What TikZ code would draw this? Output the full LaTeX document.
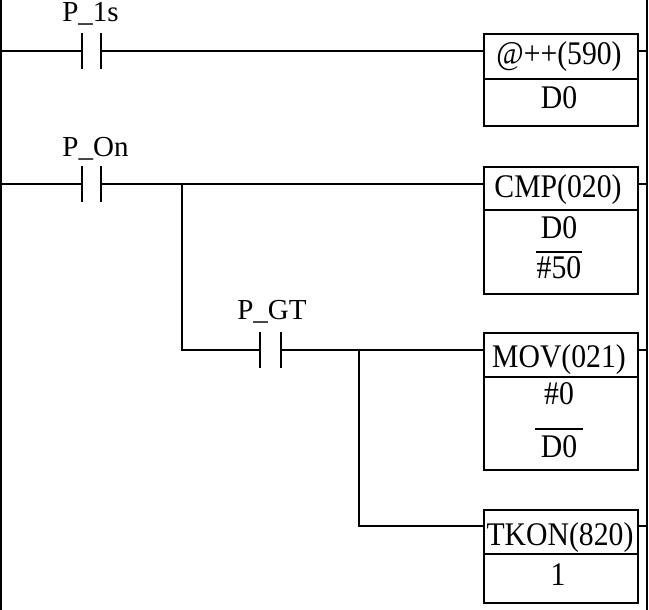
\documentclass[tikz,border=0pt]{standalone}
\usepackage{fontspec}
\setmainfont{Liberation Serif}
\newfontfamily\boxfont[FakeStretch=0.9]{Liberation Serif}
\tikzset{
  wire/.style={line width=1.6pt},
  fbox/.style={draw, line width=1.6pt, minimum width=154pt, inner sep=0pt, anchor=north west},
  txt/.style={font=\boxfont\fontsize{33}{38}\selectfont, inner sep=0pt, anchor=base},
  lab/.style={font=\fontsize{29}{34}\selectfont, inner sep=0pt, anchor=base},
}
\begin{document}
\begin{tikzpicture}[x=1pt, y=-1pt]
\useasboundingbox (0,0) rectangle (649,610);
% rails
\coordinate (lt) at (1,0); \coordinate (lb) at (1,610);
\coordinate (rt) at (647,0); \coordinate (rb) at (647,610);
\draw[wire] (lt) -- (lb);
\draw[wire] (rt) -- (rb);
% rail taps
\coordinate (L1) at (1,51); \coordinate (L2) at (1,184);
\coordinate (R1) at (647,51); \coordinate (R2) at (647,184);
\coordinate (R3) at (647,350); \coordinate (R4) at (647,526);
% contacts
\coordinate (k1a) at (82,51);  \coordinate (k1b) at (101,51);
\coordinate (k2a) at (82,184); \coordinate (k2b) at (101,184);
\coordinate (k3a) at (260,350); \coordinate (k3b) at (281,350);
\foreach \c in {k1a,k1b,k2a,k2b,k3a,k3b}
  \draw[wire] ([yshift=18pt]\c) -- ([yshift=-18pt]\c);
\node[lab] (lab1) at (90.5,21.5) {P\_1s};
\node[lab] (lab2) at (95.5,157) {P\_On};
\node[lab] (lab3) at (272,319) {P\_GT};
% branch points
\coordinate (j1) at (182,184); \coordinate (j1d) at (182,350);
\coordinate (j2) at (359,350); \coordinate (j2d) at (359,526);
% boxes
\node[fbox, minimum height=92pt]  (b1) at (483,33)  {};
\node[fbox, minimum height=127pt] (b2) at (483,166) {};
\node[fbox, minimum height=137pt] (b3) at (483,332) {};
\node[fbox, minimum height=93pt]  (b4) at (483,509) {};
\draw[wire] (b1.west |- 0,79)  -- (b1.east |- 0,79);
\draw[wire] (b2.west |- 0,210) -- (b2.east |- 0,210);
\draw[wire] (b3.west |- 0,377) -- (b3.east |- 0,377);
\draw[wire] (b4.west |- 0,554) -- (b4.east |- 0,554);
% box texts
\node[txt] (t1a) at (559,65)  {@++(590)};
\node[txt] (t1b) at (559,109) {D0};
\node[txt] (t2a) at (558,197) {CMP(020)};
\node[txt] (t2b) at (559,238) {D0};
\node[txt] (t2c) at (559,278) {\#50};
\draw[wire] (536,252) -- (582,252);
\node[txt] (t3a) at (559,367) {MOV(021)};
\node[txt] (t3b) at (559,404) {\#0};
\draw[wire] (535,429) -- (583,429);
\node[txt] (t3c) at (559,457) {D0};
\node[txt] (t4a) at (560,545) {TKON(820)};
\node[txt] (t4b) at (558,585) {1};
% wiring
\draw[wire] (L1) -- (k1a);
\draw[wire] (k1b) -- (b1.west |- k1b);
\draw[wire] (b1.east |- R1) -- (R1);
\draw[wire] (L2) -- (k2a);
\draw[wire] (k2b) -- (b2.west |- k2b);
\draw[wire] (b2.east |- R2) -- (R2);
\draw[wire] (j1) -- (j1d) -- (k3a);
\draw[wire] (k3b) -- (b3.west |- k3b);
\draw[wire] (b3.east |- R3) -- (R3);
\draw[wire] (j2) -- (j2d) -- (b4.west |- j2d);
\draw[wire] (b4.east |- R4) -- (R4);
\end{tikzpicture}
\end{document}
